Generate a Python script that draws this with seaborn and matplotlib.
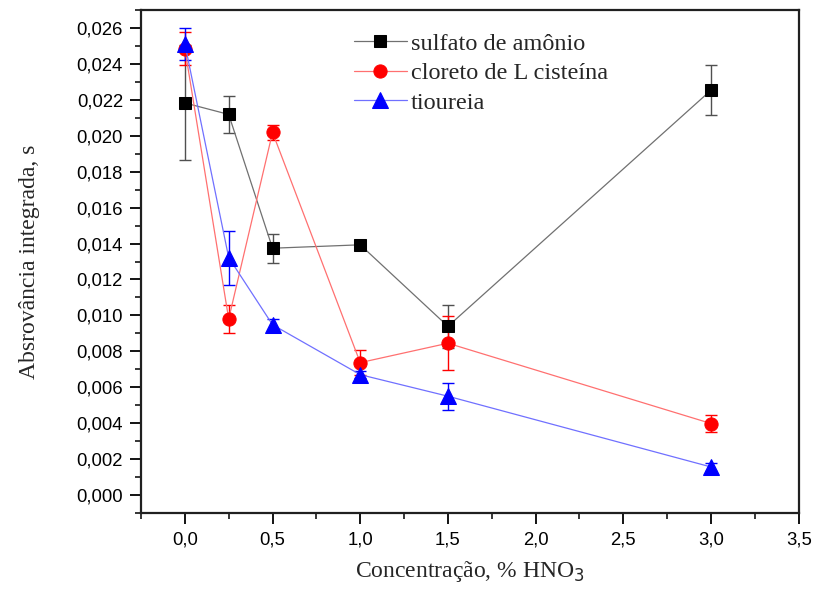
import matplotlib
matplotlib.use("Agg")
import matplotlib.pyplot as plt
import seaborn as sns
import pandas as pd
from matplotlib.ticker import FuncFormatter, MultipleLocator

conc = [0.0, 0.25, 0.5, 1.0, 1.5, 3.0]

sulfato = [0.02183, 0.02119, 0.01374, 0.01393, 0.00939, 0.02254]
sulfato_err = [0.0032, 0.00105, 0.0008, 0.0001, 0.0012, 0.0014]

cloreto = [0.02486, 0.0098, 0.02019, 0.00737, 0.00845, 0.00398]
cloreto_err = [0.0009, 0.0008, 0.0004, 0.0007, 0.0015, 0.0005]

tioureia = [0.02513, 0.01322, 0.00948, 0.0067, 0.0055, 0.00156]
tioureia_err = [0.0009, 0.0015, 0.0003, 0.0002, 0.00075, 0.0002]

labels = ["sulfato de amônio", "cloreto de L cisteína", "tioureia"]

sns.set_theme(style="ticks")
plt.rcParams['font.family'] = ['Liberation Sans', 'DejaVu Sans']

fig = plt.figure(figsize=(8.15, 5.93), dpi=100)
ax = fig.add_axes([0.173, 0.135, 0.807, 0.848])

series = [
    (sulfato, sulfato_err, labels[0], "s", 8.5, "black", "#707070", "#505050"),
    (cloreto, cloreto_err, labels[1], "o", 9.5, "red", "#ff7070", "red"),
    (tioureia, tioureia_err, labels[2], "^", 11, "blue", "#7070ff", "blue"),
]

for vals, errs, lab, mk, ms, mcol, lcol, ecol in series:
    df = pd.DataFrame({"x": conc, "y": vals})
    ax.errorbar(conc, vals, yerr=errs, fmt="none", ecolor=ecol, elinewidth=1.0,
                capsize=4, capthick=1.0, zorder=2)
    sns.lineplot(data=df, x="x", y="y", ax=ax, color=lcol, linewidth=0.9,
                 marker=mk, markersize=ms,
                 markerfacecolor=mcol, markeredgecolor=mcol, label=lab,
                 zorder=3)

ax.set_xlim(-0.25, 3.5)
ax.set_ylim(-0.001, 0.027)
ax.xaxis.set_major_locator(MultipleLocator(0.5))
ax.xaxis.set_minor_locator(MultipleLocator(0.25))
ax.yaxis.set_major_locator(MultipleLocator(0.002))
ax.yaxis.set_minor_locator(MultipleLocator(0.001))
ax.xaxis.set_major_formatter(FuncFormatter(lambda v, p: f"{v:.1f}".replace(".", ",")))
ax.yaxis.set_major_formatter(FuncFormatter(lambda v, p: f"{v:.3f}".replace(".", ",")))
ax.tick_params(axis="both", which="major", direction="out", length=8, width=1.3,
               labelsize=13.3, colors="black", pad=5)
ax.tick_params(axis="both", which="minor", direction="out", length=4.5, width=1.3)
for sp in ax.spines.values():
    sp.set_linewidth(1.6)
    sp.set_color("#202020")
    sp.set_visible(True)

ax.set_xlabel("Concentração, % HNO$_3$", family=["Liberation Serif"], fontsize=17, labelpad=8)
ax.set_ylabel("Absrovância integrada, s", family=["Liberation Serif"], fontsize=17, labelpad=26)

leg = ax.legend(loc="upper left", bbox_to_anchor=(0.29, 0.998), frameon=False,
                prop={"family": "Liberation Serif", "size": 17.5}, handlelength=2.2,
                labelspacing=0.3, handletextpad=0.15)

fig.savefig("out.png", dpi=100)
